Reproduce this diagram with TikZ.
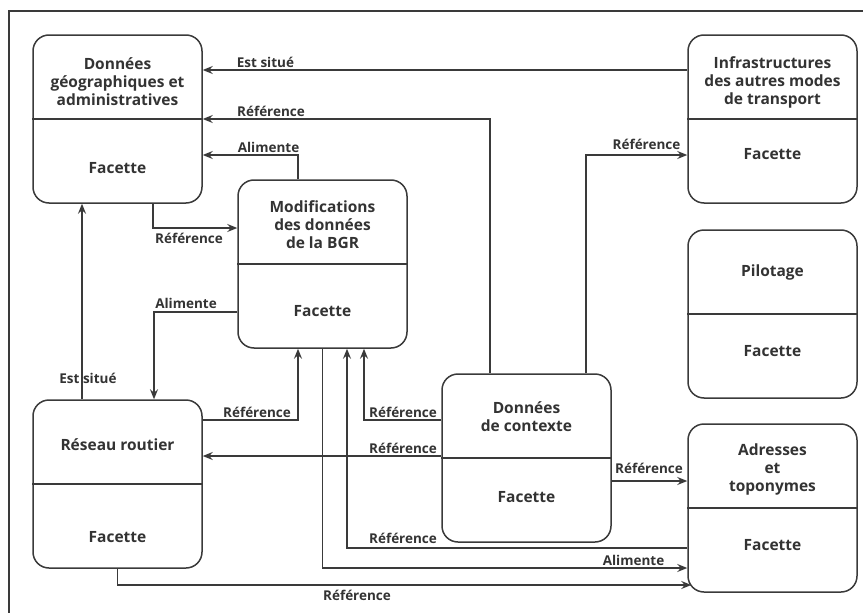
\documentclass[tikz,border=0pt]{standalone}
\usepackage{fontspec}
\setmainfont{Open Sans}
\usetikzlibrary{positioning, arrows.meta}
\definecolor{linegray}{HTML}{3A3A3A}
\definecolor{textgray}{HTML}{333333}
\tikzset{
	facette box/.style={draw=linegray, line width=1.5pt, rounded corners=16pt, 
	minimum width=169pt, minimum height=168pt, inner sep=0pt},
	box text/.style={font=\fontsize{15.5}{18}\selectfont\bfseries, text=textgray, 
	align=center, inner sep=0pt},
	flow/.style={draw=linegray, line width=1.5pt, -{Stealth[length=10pt,width=8pt,inset=3.5pt]}},
	lbl/.style={font=\fontsize{13.5}{14}\selectfont\bfseries, text=textgray, inner sep=0pt}
}

\begin{document}
\begin{tikzpicture}[x=1pt, y=-1pt]
		\useasboundingbox (0,0) rectangle (863,613);
		\draw[draw=linegray, line width=1.5pt] (9,613) -- (9,11) -- (863,11);
		
		% boxes
		\node (DG) at (117.5,119) [facette box]{};
		\draw[draw=linegray, line width=1.5pt] (DG.west) -- (DG.east);
		\node (DG title) at (117.5,82) [box text]{Données\\géographiques et\\administratives};
		\node (DG facette) at (117.5,168) [box text]{Facette};
		
		\node (MOD) at (322.5,264) [facette box]{};
		\draw[draw=linegray, line width=1.5pt] (MOD.west) -- (MOD.east);
		\node (MOD title) at (322.5,225) [box text]{Modifications\\des données\\de la BGR};
		\node (MOD facette) at (322.5,311) [box text]{Facette};
		
		\node (INF) at (772.5,119) [facette box]{};
		\draw[draw=linegray, line width=1.5pt] (INF.west) -- (INF.east);
		\node (INF title) at (772.5,82) [box text]{Infrastructures\\des autres modes\\de transport};
		\node (INF facette) at (772.5,154) [box text]{Facette};
		
		\node (PIL) at (772.5,314) [facette box]{};
		\draw[draw=linegray, line width=1.5pt] (PIL.west) -- (PIL.east);
		\node (PIL title) at (772.5,272) [box text]{Pilotage};
		\node (PIL facette) at (772.5,351) [box text]{Facette};
		
		\node (RR) at (117.5,484) [facette box]{};
		\draw[draw=linegray, line width=1.5pt] (RR.west) -- (RR.east);
		\node (RR title) at (117.5,445) [box text]{Réseau routier};
		\node (RR facette) at (117.5,537) [box text]{Facette};
		
		\node (CTX) at (526.5,458) [facette box]{};
		\draw[draw=linegray, line width=1.5pt] (CTX.west) -- (CTX.east);
		\node (CTX title) at (526.5,417) [box text]{Données\\de contexte};
		\node (CTX facette) at (526.5,497) [box text]{Facette};
		
		\node (ADR) at (772.5,508) [facette box]{};
		\draw[draw=linegray, line width=1.5pt] (ADR.west) -- (ADR.east);
		\node (ADR title) at (772.5,469) [box text]{Adresses\\et\\toponymes};
		\node (ADR facette) at (772.5,545) [box text]{Facette};
		
		% connectors
		\draw[flow] (INF.west |- 0,70) -- (DG.east |- 0,70) node (lbl1) at (265.5,62) [lbl]{Est situé};
		\draw[flow] (CTX.north -| 490,0) |- (DG.east) node (lbl2) at (271,111) [lbl]{Référence};
		\draw[flow] (MOD.north -| 298,0) |- (DG.east |- 0,155) node (lbl3) at (268.5,147) [lbl]{Alimente};
		\draw[flow] (DG.south -| 153,0) |- (MOD.west |- 0,228) node (lbl4) at (189,238) [lbl]{Référence};
		\draw[flow] (MOD.west |- 0,312) -| (RR.north -| 154,0) node (lbl5) at (186,303) [lbl]{Alimente};
		\draw[flow] (RR.north -| 82,0) -- (DG.south -| 82,0) node (lbl6) at (88,378) [lbl]{Est situé};
		\draw[flow] (RR.east |- 0,420) -| (MOD.south -| 298,0) node (lbl7) at (257,412) [lbl]{Référence};
		\draw[flow] (CTX.west |- 0,420) -| (MOD.south -| 364,0) node (lbl8) at (403,412) [lbl]{Référence};
		\draw[flow] (CTX.west |- 0,456) -- (RR.east |- 0,456) node (lbl9) at (403,448) [lbl]{Référence};
		\draw[flow] (ADR.west |- 0,548) -| (MOD.south -| 347,0) node (lbl10) at (403,538) [lbl]{Référence};
		\draw[flow] (MOD.south) |- (ADR.west |- 0,568) node (lbl11) at (633.5,560) [lbl]{Alimente};
		\draw[flow] (RR.south) |- ([xshift=4pt]ADR.west |- 0,585) node (lbl12) at (357,595) [lbl]{Référence};
		\draw[flow] (CTX.east |- 0,481) -- (ADR.west |- 0,481) node (lbl13) at (649,468) [lbl]{Référence};
		\draw[flow] (CTX.north -| 586,0) |- (INF.west |- 0,155) node (lbl14) at (646.5,144) [lbl]{Référence};
\end{tikzpicture}
\end{document}
